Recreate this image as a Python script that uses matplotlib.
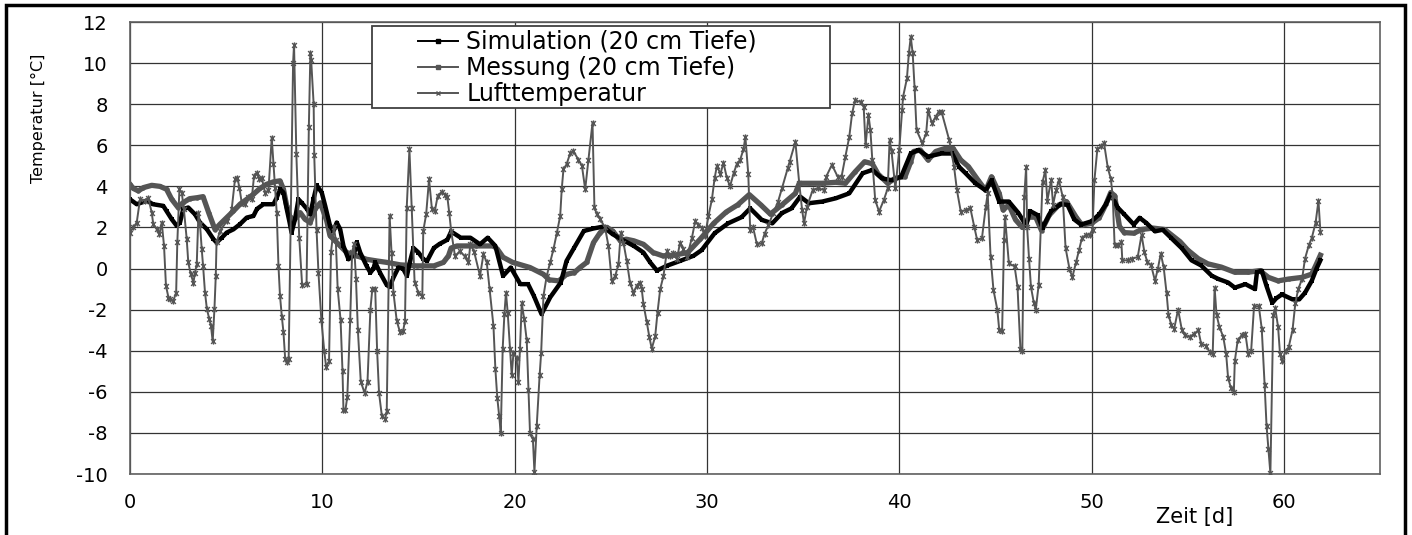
import matplotlib
matplotlib.use("Agg")
import matplotlib.pyplot as plt
from matplotlib.path import Path
from matplotlib.lines import Line2D
from matplotlib.patches import Rectangle

plt.rcParams["font.family"] = ["DejaVu Sans"]
plt.rcParams["axes.unicode_minus"] = False

# Simulated soil temperature at 20 cm depth
sim_t = [0.0, 0.35, 0.87, 1.2, 1.73, 1.9, 2.17, 2.43, 2.6, 2.77, 3.03, 3.38, 3.64, 4.0,
         4.34, 4.5, 4.77, 5.03, 5.38, 5.72, 6.07, 6.42, 6.6, 6.94, 7.46, 7.63, 7.8, 7.98,
         8.15, 8.3, 8.4, 8.58, 8.76, 8.93, 9.2, 9.37, 9.54, 9.71, 9.97, 10.15, 10.4, 10.58,
         10.75, 10.93, 11.1, 11.36, 11.62, 11.8, 11.97, 12.3, 12.5, 12.66, 12.75, 13.0,
         13.35, 13.5, 13.7, 13.96, 14.2, 14.4, 14.55, 14.74, 15.0, 15.26, 15.45, 15.8,
         16.1, 16.5, 16.7, 17.2, 17.7, 18.2, 18.6, 19.0, 19.4, 19.8, 20.3, 20.7, 21.0,
         21.4, 21.85, 22.4, 22.7, 23.1, 23.6, 24.1, 24.6, 25.1, 25.7, 26.2, 26.7, 27.05,
         27.4, 27.9, 28.6, 29.3, 29.73, 30.4, 31.1, 31.8, 32.25, 32.85, 33.4, 33.9, 34.4,
         34.85, 35.3, 36.0, 36.7, 37.4, 38.1, 38.6, 39.1, 39.6, 40.1, 40.6, 41.0, 41.5,
         42.2, 42.75, 43.1, 43.45, 43.96, 44.5, 44.8, 45.2, 45.7, 46.2, 46.6, 46.8, 47.2,
         47.45, 47.9, 48.4, 48.75, 49.1, 49.45, 50.0, 50.4, 50.75, 51.0, 51.36, 51.7,
         52.2, 52.5, 52.85, 53.3, 53.7, 54.15, 54.7, 55.2, 55.7, 56.25, 56.6, 57.1, 57.45,
         58.0, 58.5, 58.6, 58.85, 59.1, 59.4, 59.6, 59.9, 60.45, 60.8, 61.1, 61.45, 61.7,
         61.9]
sim_v = [3.37, 3.13, 3.3, 3.13, 3.05, 2.8, 2.4, 2.08, 2.24, 2.9, 2.97, 2.64, 2.24, 1.91,
         1.43, 1.27, 1.5, 1.75, 1.91, 2.16, 2.48, 2.56, 2.9, 3.13, 3.13, 3.45, 3.86, 3.7,
         2.9, 2.24, 1.75, 2.4, 3.37, 3.2, 2.9, 2.64, 3.37, 4.05, 3.7, 3.05, 2.08, 1.83,
         2.24, 1.91, 1.1, 0.45, 0.62, 1.27, 0.78, 0.13, -0.2, 0.0, 0.3, -0.2,
         -0.8, -0.9, -0.44, 0.05, 0.0, -0.36, 0.3, 1.0, 0.78, 0.45, 0.37, 1.0,
         1.2, 1.4, 1.8, 1.5, 1.5, 1.18, 1.5, 1.1, -0.36, 0.05, -0.76, -0.76, -1.33,
         -2.22, -1.4, -0.68, 0.37, 1.02, 1.83, 1.95, 2.04, 1.67, 1.35, 1.1, 0.78, 0.3,
         -0.1, 0.13, 0.37, 0.62, 0.9, 1.72, 2.2, 2.5, 2.93, 2.37, 2.2, 2.7, 2.93,
         3.5, 3.18, 3.26, 3.42, 3.66, 4.64, 4.8, 4.39, 4.3, 4.47, 5.6, 5.77, 5.45,
         5.6, 5.6, 4.96, 4.64, 4.15, 3.8, 4.3, 3.26, 3.26, 2.7, 2.1, 2.8, 2.6,
         1.97, 2.8, 3.13, 3.1, 2.39, 2.14, 2.3, 2.64, 3.13, 3.63, 2.97, 2.64,
         2.14, 2.47, 2.22, 1.81, 1.89, 1.48, 0.98, 0.4, 0.15, -0.35, -0.51, -0.68, -0.93,
         -0.76, -1.0, -0.18, -0.1, -0.85, -1.67, -1.45, -1.26, -1.5, -1.5, -1.18, -0.6, 0.0,
         0.4]

# Measured soil temperature at 20 cm depth
mess_t = [0.0, 0.17, 0.43, 0.7, 1.13, 1.56, 1.9, 2.17, 2.5, 2.75, 3.1, 3.5, 3.8, 4.1,
          4.42, 4.68, 5.03, 5.38, 5.72, 6.07, 6.42, 6.76, 7.1, 7.46, 7.8, 7.98, 8.15, 8.3,
          8.5, 8.85, 9.1, 9.37, 9.63, 9.9, 10.23, 10.4, 10.58, 10.93, 11.27, 11.8, 12.3,
          12.83, 13.35, 14.05, 14.9, 15.8, 16.3, 16.56, 16.7, 17.0, 18.0, 18.9, 19.1, 19.4,
          19.9, 20.8, 21.5, 21.8, 22.3, 22.7, 23.1, 23.4, 23.75, 24.1, 24.45, 24.8, 25.1,
          25.5, 25.8, 26.2, 26.7, 27.2, 27.7, 28.3, 29.0, 29.65, 30.35, 31.0, 31.6, 32.2,
          32.8, 33.3, 33.9, 34.6, 34.8, 35.3, 36.0, 36.7, 37.2, 37.7, 38.2, 38.6, 38.9,
          39.4, 39.8, 40.3, 40.6, 40.75, 41.1, 41.5, 41.9, 42.4, 42.8, 43.2, 43.6, 44.1,
          44.5, 44.8, 45.2, 45.4, 45.7, 46.05, 46.4, 46.75, 47.1, 47.4, 47.8, 48.3, 48.7,
          49.2, 49.5, 50.0, 50.4, 50.75, 51.0, 51.2, 51.45, 51.7, 52.2, 52.6, 53.2, 53.8,
          54.15, 54.6, 55.0, 55.55, 56.05, 56.75, 57.45, 58.15, 58.75, 59.2, 59.7, 60.25,
          60.95, 61.45, 61.7, 61.9]
mess_v = [4.1, 3.9, 3.78, 3.94, 4.05, 4.0, 3.86, 3.37, 2.97, 3.2, 3.4, 3.45, 3.5, 2.7,
          1.9, 2.16, 2.48, 2.8, 3.13, 3.37, 3.62, 3.9, 4.1, 4.22, 4.27, 3.86, 3.05, 2.56,
          2.32, 2.72, 2.4, 2.24, 2.9, 3.2, 2.32, 1.6, 1.43, 1.1, 0.78, 0.62, 0.45,
          0.37, 0.3, 0.18, 0.13, 0.13, 0.3, 0.62, 1.0, 1.1, 1.1, 1.1, 0.95, 0.55,
          0.3, 0.05, -0.28, -0.55, -0.6, -0.28, -0.2, 0.05, 0.3, 1.26, 1.75, 2.0, 1.83,
          1.35, 1.43, 1.35, 1.18, 0.78, 0.62, 0.65, 0.78, 1.43, 2.2, 2.75, 3.1, 3.6,
          3.1, 2.65, 3.1, 3.66, 4.15, 4.15, 4.15, 4.2, 4.15, 4.7, 5.2, 5.1, 4.6,
          4.15, 4.4, 4.47, 5.2, 5.7, 5.77, 5.28, 5.7, 5.85, 5.85, 5.28, 4.96, 4.3,
          3.8, 4.47, 3.66, 2.85, 3.1, 2.37, 2.0, 2.5, 2.5, 1.85, 2.6, 3.1, 3.26,
          2.5, 2.12, 2.2, 2.47, 3.13, 3.7, 3.55, 2.06, 1.75, 1.72, 1.9, 1.97, 1.9,
          1.64, 1.31, 0.9, 0.48, 0.23, 0.07, -0.18, -0.18, -0.1, -0.43, -0.6, -0.51,
          -0.43, -0.27, 0.23, 0.65]

# Air temperature
luft_t = [0.0, 0.17, 0.35, 0.52, 0.78, 0.95, 1.13, 1.21, 1.39, 1.53, 1.65, 1.77, 1.87,
          2.0, 2.1, 2.25, 2.4, 2.46, 2.57, 2.69, 2.8, 2.95, 3.03, 3.16, 3.3, 3.38, 3.47,
          3.56, 3.64, 3.73, 3.8, 3.9, 4.0, 4.13, 4.21, 4.3, 4.39, 4.46, 4.5, 4.68, 5.03,
          5.29, 5.46, 5.58, 5.69, 5.81, 5.98, 6.16, 6.33, 6.45, 6.59, 6.73, 6.85, 7.02,
          7.2, 7.37, 7.46, 7.54, 7.63, 7.72, 7.8, 7.9, 7.98, 8.07, 8.15, 8.25, 8.48, 8.53,
          8.65, 8.8, 8.95, 9.18, 9.3, 9.38, 9.42, 9.55, 9.58, 9.7, 9.8, 9.95, 10.1, 10.2,
          10.35, 10.45, 10.6, 10.7, 10.8, 10.95, 11.05, 11.1, 11.2, 11.3, 11.45, 11.55,
          11.65, 11.75, 11.85, 12.0, 12.2, 12.35, 12.5, 12.6, 12.75, 12.85, 12.95, 13.1,
          13.27, 13.35, 13.5, 13.6, 13.7, 13.87, 14.04, 14.2, 14.3, 14.39, 14.53, 14.65,
          14.8, 15.0, 15.2, 15.25, 15.4, 15.55, 15.7, 15.85, 16.0, 16.2, 16.4, 16.5, 16.6,
          16.7, 16.9, 17.15, 17.4, 17.6, 17.7, 17.9, 18.2, 18.38, 18.55, 18.7, 18.9, 19.0,
          19.1, 19.2, 19.28, 19.38, 19.47, 19.55, 19.64, 19.76, 19.85, 19.94, 20.1, 20.2,
          20.28, 20.37, 20.5, 20.63, 20.72, 20.8, 20.95, 21.03, 21.15, 21.3, 21.38, 21.5,
          21.67, 21.85, 22.02, 22.2, 22.37, 22.45, 22.54, 22.7, 22.9, 23.06, 23.32, 23.5,
          23.67, 23.84, 24.05, 24.15, 24.27, 24.45, 24.7, 24.88, 25.05, 25.23, 25.4, 25.52,
          25.66, 25.83, 26.0, 26.18, 26.35, 26.5, 26.61, 26.7, 26.87, 27.01, 27.13, 27.31,
          27.43, 27.57, 27.74, 27.92, 28.09, 28.26, 28.44, 28.6, 28.78, 28.96, 29.22, 29.39,
          29.56, 29.74, 29.9, 30.08, 30.26, 30.4, 30.52, 30.7, 30.86, 31.04, 31.2, 31.4,
          31.55, 31.73, 31.9, 32.0, 32.15, 32.25, 32.4, 32.6, 32.85, 33.0, 33.2, 33.45,
          33.7, 33.9, 34.2, 34.3, 34.6, 34.8, 34.95, 35.05, 35.2, 35.5, 35.8, 36.1, 36.2,
          36.5, 36.8, 37.0, 37.2, 37.4, 37.55, 37.7, 38.0, 38.15, 38.25, 38.4, 38.5, 38.6,
          38.75, 38.95, 39.2, 39.4, 39.5, 39.6, 39.8, 40.0, 40.15, 40.2, 40.4, 40.5, 40.6,
          40.7, 40.8, 40.9, 41.2, 41.4, 41.5, 41.7, 41.9, 42.05, 42.2, 42.6, 42.85, 43.0,
          43.2, 43.45, 43.7, 43.9, 44.05, 44.3, 44.5, 44.6, 44.75, 44.9, 45.1, 45.2, 45.35,
          45.45, 45.5, 45.7, 46.0, 46.15, 46.3, 46.4, 46.5, 46.6, 46.65, 46.75, 46.85, 47.0,
          47.1, 47.25, 47.45, 47.6, 47.7, 47.9, 48.0, 48.15, 48.3, 48.5, 48.65, 48.85, 49.0,
          49.2, 49.35, 49.5, 49.7, 49.9, 50.05, 50.15, 50.3, 50.5, 50.65, 50.85, 51.0, 51.1,
          51.2, 51.4, 51.55, 51.6, 51.9, 52.1, 52.4, 52.6, 52.75, 52.9, 53.1, 53.3, 53.45,
          53.6, 53.75, 53.9, 54.0, 54.15, 54.3, 54.5, 54.7, 54.85, 55.1, 55.35, 55.55, 55.7,
          55.95, 56.15, 56.3, 56.4, 56.5, 56.65, 56.85, 57.0, 57.1, 57.25, 57.4, 57.45,
          57.6, 57.8, 58.0, 58.15, 58.3, 58.45, 58.7, 58.85, 59.0, 59.1, 59.2, 59.3, 59.45,
          59.55, 59.7, 59.8, 59.9, 60.1, 60.25, 60.45, 60.6, 60.75, 60.95, 61.1, 61.3,
          61.45, 61.65, 61.8, 61.9]
luft_v = [1.75, 2.0, 2.24, 3.37, 3.3, 3.45, 2.72, 2.16, 1.91, 1.67, 2.24, 1.1, -0.84,
          -1.41, -1.5, -1.57, -1.17, 1.27, 3.86, 3.7, 2.9, 1.43, 0.3, -0.28, -0.68, -0.2, 0.2,
          2.72, 2.16, 0.94, 0.13, -1.17, -1.98, -2.47, -2.79, -3.55, -1.98, -0.36, 1.27, 1.83, 2.3,
          2.9, 4.35, 4.43, 3.94, 3.2, 3.13, 3.5, 3.4, 4.5, 4.67, 4.35, 4.43, 3.7,
          3.8, 6.37, 5.08, 3.94, 2.72, 0.13, -1.33, -2.38, -3.1, -4.4, -4.55, -4.4, 10.0, 10.9,
          5.58, 1.5, -0.8, -0.76, 6.9, 10.5, 10.15, 8.0, 5.53, 1.9, -0.2, -2.5, -4.0, -4.8,
          -4.5, 0.8, 2.0, 1.4, -1.0, -2.5, -5.0, -6.88, -6.9, -6.23, -2.5, 0.8,
          1.2, -0.5, -3.0, -5.5, -6.06, -5.5, -2.0, -1.0, -1.0, -4.0, -6.06, -7.2,
          -7.3, -6.95, 2.56, 0.78, -1.17, -2.54, -3.1, -3.05, -2.54, 2.97, 5.8, 2.97,
          -0.68, -1.17, -1.33, 1.83, 2.64, 4.34, 2.9, 2.8, 3.53, 3.73, 3.6, 3.5, 2.72,
          1.83, 0.6, 0.85, 0.6, 0.3, 1.2, 0.8, -0.36, 0.7, 0.3, -1.0, -2.8, -4.9,
          -6.3, -7.2, -8.0, -3.9, -2.2, -1.17, -2.14, -3.9, -5.2, -4.1, -4.35, -5.5,
          -3.9, -1.7, -2.46, -3.5, -5.9, -8.0, -8.3, -9.9, -7.65, -5.2, -4.1, -1.33,
          -0.36, 0.3, 0.94, 1.75, 2.56, 3.86, 4.83, 5.07, 5.64, 5.7, 5.3, 5.0,
          3.86, 5.3, 7.1, 3.0, 2.64, 2.4, 2.0, 1.1, -0.6, -0.36, 0.2, 1.75,
          1.26, 0.37, -0.68, -1.17, -0.84, -0.68, -1.0, -1.73, -2.6, -3.35, -3.9, -3.3,
          -2.14, -1.0, -0.36, 0.86, 0.62, 0.78, 0.45, 1.26, 0.94, 0.54, 1.5, 2.3,
          2.14, 1.98, 1.6, 2.56, 3.37, 4.4, 5.0, 4.6, 5.15, 4.4, 4.0, 4.67,
          5.07, 5.3, 5.8, 6.4, 4.6, 1.9, 2.0, 1.18, 1.23, 1.7, 2.12, 2.7,
          3.26, 3.9, 4.88, 5.2, 6.17, 4.15, 2.85, 2.2, 3.0, 3.82, 3.9, 3.82, 4.47,
          5.05, 4.47, 4.47, 5.45, 6.4, 7.55, 8.2, 8.1, 7.88, 6.0, 7.47, 6.75, 5.28,
          3.34, 2.77, 3.34, 3.9, 6.25, 5.7, 3.9, 5.77, 7.7, 8.36, 9.25, 10.47, 11.28,
          10.47, 8.77, 6.74, 6.1, 6.58, 7.7, 7.07, 7.4, 7.63, 7.63, 6.25, 4.96, 3.82,
          2.77, 2.85, 2.93, 2.04, 1.4, 1.47, 3.0, 3.66, 0.58, -1.04, -2.0, -2.98, -3.06,
          1.4, 2.53, 0.26, 0.1, -0.88, -3.9, -4.0, 3.47, 4.96, 2.0, 0.48, -0.9, -1.67,
          -2.0, -0.8, 4.2, 4.8, 3.3, 4.3, 3.1, 3.8, 4.3, 3.5, 1.0, 0.0, -0.43,
          0.32, 0.9, 1.48, 1.64, 1.64, 1.9, 4.3, 5.8, 5.95, 6.1, 4.88, 4.38, 3.55,
          1.14, 1.14, 1.3, 0.4, 0.4, 0.48, 0.56, 1.64, 0.8, 0.32, 0.15, -0.6, 0.0,
          0.73, 0.07, -1.18, -2.25, -2.75, -2.92, -2.0, -3.0, -3.25, -3.33, -3.17, -3.0, -3.66,
          -3.75, -4.08, -4.16, -0.93, -2.25, -2.84, -3.33, -4.16, -5.32, -5.82, -5.99, -4.5,
          -3.5, -3.25, -3.17, -4.16, -4.0, -1.84, -1.84, -2.92, -5.65, -7.65, -8.8, -9.97, -2.25,
          -1.92, -2.84, -4.16, -4.5, -4.0, -3.83, -3.0, -1.67, -1.0, -0.5, 0.48, 1.14,
          1.48, 2.22, 3.3, 1.8]

x_ticks = [0, 10, 20, 30, 40, 50, 60]
y_ticks = [-10, -8, -6, -4, -2, 0, 2, 4, 6, 8, 10, 12]
labels = ["Simulation (20 cm Tiefe)", "Messung (20 cm Tiefe)", "Lufttemperatur"]

W, H = 1412, 535
fig = plt.figure(figsize=(W / 100, H / 100), dpi=100)
ax = fig.add_axes([130 / W, 1 - 474 / H, 1250 / W, 452 / H])

# asterisk-like marker: an x crossed by a vertical bar
star = Path([(-1, -1), (1, 1), (-1, 1), (1, -1), (0, -1.3), (0, 1.3)],
            [Path.MOVETO, Path.LINETO, Path.MOVETO, Path.LINETO, Path.MOVETO, Path.LINETO])

grey = "#555555"
ax.plot(mess_t, mess_v, color=grey, lw=3.8, marker="o", ms=3.2, mew=0,
        solid_joinstyle="round", zorder=2.2)
ax.plot(sim_t, sim_v, color="black", lw=3.2, marker="s", ms=3.0, mew=0,
        solid_joinstyle="round", zorder=2.4)
ax.plot(luft_t, luft_v, color=grey, lw=1.4, marker=star, ms=4.5, mew=1.0,
        mfc="none", mec=grey, zorder=2.6)

ax.set_xlim(0, 65)
ax.set_ylim(-10, 12)
ax.set_xticks(x_ticks)
ax.set_xticklabels([str(v) for v in x_ticks])
ax.set_yticks(y_ticks)
ax.set_yticklabels([str(v) for v in y_ticks])
ax.grid(True, color="#333333", lw=0.9)
ax.set_axisbelow(True)
for s in ax.spines.values():
    s.set_color("#606060")
    s.set_linewidth(1.2)
ax.tick_params(axis="both", length=0, labelsize=14, colors="black")
ax.tick_params(axis="y", pad=16)
ax.tick_params(axis="x", pad=14)

ax.set_ylabel("Temperatur [°C]", fontsize=11.5, ha="center", va="center")
ax.yaxis.set_label_coords((38 - 130) / 1250, (474 - 118) / 452)
ax.set_xlabel("Zeit [d]", fontsize=15, ha="center", va="center")
ax.xaxis.set_label_coords((1195 - 130) / 1250, -(517 - 474) / 452)

# legend frame
ax.add_patch(Rectangle((372 / W, 1 - 108 / H), (830 - 372) / W, 82 / H,
                       transform=fig.transFigure, facecolor="white",
                       edgecolor="#404040", lw=1.3, zorder=4))
handles = [
    Line2D([], [], color="black", lw=1.4, marker="s", ms=3.5),
    Line2D([], [], color=grey, lw=1.4, marker="s", ms=3.5),
    Line2D([], [], color=grey, lw=1.4, marker="x", ms=3.5),
]
ax.legend(handles, labels, loc="upper left", bbox_to_anchor=(418 / W, 1 - 30 / H),
          bbox_transform=fig.transFigure, frameon=False, fontsize=17,
          handlelength=1.7, handletextpad=0.34, borderpad=0, borderaxespad=0,
          labelspacing=0.08, numpoints=1)

# outer frame
fig.add_artist(Rectangle((6 / W, -0.05), (1405 - 6) / W, 1.05 - 5 / H,
                         transform=fig.transFigure, fill=False,
                         edgecolor="black", lw=2.5))

fig.savefig("out.png", dpi=100)
